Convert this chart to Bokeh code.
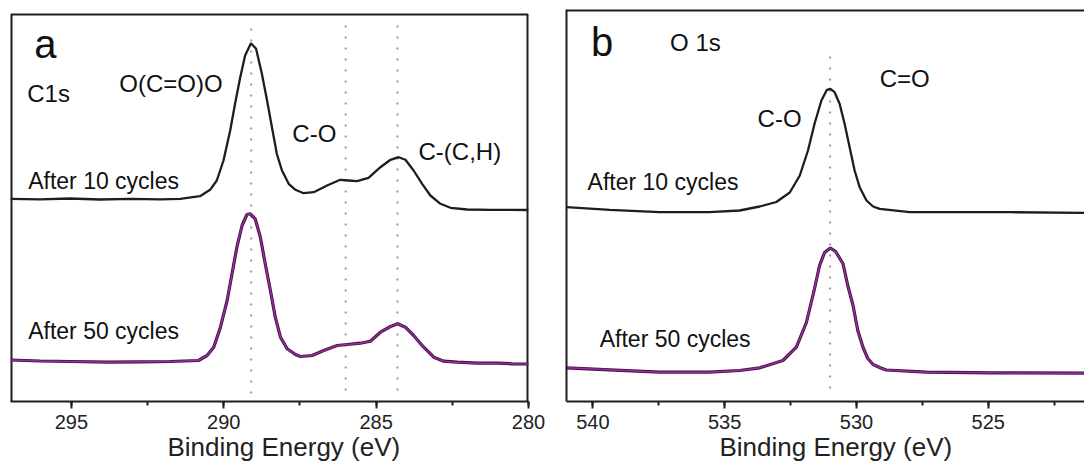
from bokeh.plotting import figure
from bokeh.models import Range1d, SingleIntervalTicker, Label, Title
from bokeh.layouts import row
from bokeh.embed import file_html
from bokeh.resources import INLINE

# ---------------- data: panel a, C 1s ----------------
c1s_be_10 = [297.0, 296.03, 295.05, 294.06, 293.07, 292.09, 291.43, 290.78, 290.45, 290.23,
             290.01, 289.79, 289.63, 289.46, 289.30, 289.11, 288.94, 288.75, 288.58, 288.42,
             288.26, 288.09, 287.87, 287.65, 287.38, 287.05, 286.61, 286.18, 285.90, 285.63,
             285.25, 284.86, 284.53, 284.26, 284.04, 283.77, 283.49, 283.22, 282.89, 282.56,
             282.01, 281.25, 280.59, 280.0]
c1s_int_10 = [202.7, 202.2, 203.0, 202.0, 202.7, 202.2, 202.7, 205.3, 211.7, 221.0,
              241.0, 271.0, 297.7, 324.3, 346.0, 358.3, 352.7, 327.7, 301.0, 274.3,
              247.7, 231.0, 217.7, 211.7, 208.3, 209.3, 216.0, 221.7, 221.0, 220.3,
              223.7, 234.3, 241.7, 244.3, 241.7, 231.0, 217.7, 206.0, 197.7, 193.7,
              192.0, 191.7, 191.7, 191.5]

c1s_be_50 = [297.0, 296.03, 295.05, 293.79, 292.74, 291.76, 290.83, 290.55, 290.33, 290.11,
             289.89, 289.73, 289.57, 289.40, 289.24, 289.13, 288.97, 288.80, 288.64, 288.47,
             288.31, 288.14, 287.92, 287.65, 287.49, 287.10, 286.72, 286.28, 285.95, 285.52,
             285.19, 284.86, 284.53, 284.29, 284.04, 283.77, 283.44, 283.11, 282.78, 282.34,
             281.68, 281.03, 280.53, 280.0]
c1s_int_50 = [41.5, 40.5, 40.0, 39.3, 39.7, 40.0, 41.0, 46.0, 54.3, 74.3,
              101.0, 127.7, 154.3, 176.0, 187.0, 187.7, 182.7, 164.3, 137.7, 111.0,
              84.3, 64.3, 52.7, 47.0, 45.0, 46.0, 51.0, 56.0, 57.0, 58.3,
              60.3, 69.3, 75.0, 77.7, 74.3, 66.0, 54.3, 44.3, 40.3, 39.3,
              38.3, 38.3, 37.7, 37.5]

c1s_peaks = [289.1, 286.0, 284.3]

# ---------------- data: panel b, O 1s ----------------
o1s_be_10 = [541.0, 539.36, 537.47, 535.57, 534.43, 533.67, 533.04, 532.53, 532.15, 531.84,
             531.59, 531.33, 531.12, 530.99, 530.83, 530.64, 530.45, 530.26, 530.07, 529.88,
             529.62, 529.37, 529.12, 527.98, 526.08, 524.19, 521.35]
o1s_int_10 = [193.3, 190.7, 188.3, 188.3, 190.0, 194.0, 198.5, 208.0, 225.0, 250.0,
              276.7, 300.0, 310.7, 311.7, 308.3, 296.7, 276.7, 253.3, 230.0, 213.3,
              200.0, 194.0, 191.7, 188.3, 188.3, 188.3, 187.7]

o1s_be_50 = [541.0, 539.36, 537.47, 535.57, 534.43, 533.67, 532.79, 532.28, 531.90, 531.59,
             531.40, 531.21, 530.99, 530.79, 530.51, 530.33, 530.13, 529.95, 529.75, 529.57,
             529.37, 529.12, 528.87, 527.35, 524.82, 521.35]
o1s_int_50 = [32.7, 30.7, 28.3, 28.3, 30.0, 32.7, 40.0, 53.3, 78.0, 112.0,
              135.0, 148.0, 152.5, 149.0, 136.7, 115.0, 95.0, 70.0, 53.0, 42.0,
              36.0, 33.0, 30.5, 28.3, 27.7, 27.3]

o1s_peaks = [531.0]

FONT = "Liberation Sans"
BLACK = "#1e1e1e"
PURPLE_EDGE = "#3a1440"
PURPLE = "#9a2a9e"
DOT = "#9a9a9a"
XTITLE = "Binding Energy (eV)"


def style_bottom_axis(ax):
    ax.ticker = SingleIntervalTicker(interval=5, num_minor_ticks=2)
    ax.axis_line_width = 2
    ax.axis_line_color = BLACK
    ax.major_tick_line_width = 2
    ax.major_tick_line_color = BLACK
    ax.minor_tick_line_width = 2
    ax.minor_tick_line_color = BLACK
    ax.major_tick_in = 0
    ax.major_tick_out = 7
    ax.minor_tick_in = 0
    ax.minor_tick_out = 4
    ax.major_label_text_font = FONT
    ax.major_label_text_font_size = "20px"
    ax.major_label_text_color = "#222222"
    ax.major_label_standoff = 6


def add_xtitle(p, shift):
    p.add_layout(Title(text=XTITLE, align="left", offset=shift, standoff=-4,
                       text_font=FONT, text_font_size="26px", text_font_style="normal",
                       text_color="#222222"), "below")


def add_label(p, x, y, text, size):
    p.add_layout(Label(x=x, y=y, text=text, text_font=FONT, text_font_size=size,
                       text_color="#111111", text_baseline="alphabetic", text_align="left"))


# ---------------- panel a ----------------
pa = figure(width=548, height=463, output_backend="svg", toolbar_location=None,
            x_range=Range1d(297, 280), y_range=Range1d(0, 392),
            y_axis_location=None, min_border_left=10, min_border_right=20,
            min_border_top=9, min_border_bottom=62)
pa.grid.visible = False
pa.outline_line_color = None
pa.background_fill_color = "white"
style_bottom_axis(pa.xaxis[0])
add_xtitle(pa, 157)

# frame of panel a: top edge sits a little below panel b's top edge
pa.segment(x0=[297, 297, 280], x1=[280, 297, 280], y0=[387, 0, 0], y1=[387, 387, 387],
           line_color=BLACK, line_width=[2, 4, 4])

pa.segment(x0=c1s_peaks, x1=c1s_peaks, y0=[8, 11, 11], y1=[373, 376, 376],
           line_color=DOT, line_width=2, line_dash="2 9")
pa.line(c1s_be_10, c1s_int_10, line_color=BLACK, line_width=2.3)
pa.line(c1s_be_50, c1s_int_50, line_color=PURPLE_EDGE, line_width=3.2)
pa.line(c1s_be_50, c1s_int_50, line_color=PURPLE, line_width=1.5)

add_label(pa, 296.22, 358, "a", "40px")
add_label(pa, 296.45, 308, "C1s", "24px")
add_label(pa, 293.43, 318, "O(C=O)O", "24px")
add_label(pa, 287.75, 268, "C-O", "24px")
add_label(pa, 283.61, 250, "C-(C,H)", "24px")
add_label(pa, 296.42, 220.5, "After 10 cycles", "23px")
add_label(pa, 296.42, 71, "After 50 cycles", "23px")

# ---------------- panel b ----------------
pb = figure(width=536, height=463, output_backend="svg", toolbar_location=None,
            x_range=Range1d(541, 521.35), y_range=Range1d(-1, 391),
            min_border_left=18, min_border_right=0,
            min_border_top=9, min_border_bottom=62)
pb.grid.visible = False
pb.outline_line_color = None
pb.background_fill_color = "white"
style_bottom_axis(pb.xaxis[0])
add_xtitle(pb, 153)

ya = pb.yaxis[0]
ya.ticker = []
ya.axis_line_width = 2
ya.axis_line_color = BLACK
ya.major_tick_out = 0
ya.minor_tick_out = 0
ya.major_label_standoff = 0
ya.major_label_text_font_size = "0px"

# top edge of the frame (panel b is cut off on the right)
pb.segment(x0=[541], x1=[521.35], y0=[391], y1=[391], line_color=BLACK, line_width=4)

pb.segment(x0=o1s_peaks, x1=o1s_peaks, y0=[12], y1=[348],
           line_color=DOT, line_width=2, line_dash="2 9")
pb.line(o1s_be_10, o1s_int_10, line_color=BLACK, line_width=2.3)
pb.line(o1s_be_50, o1s_int_50, line_color=PURPLE_EDGE, line_width=3.2)
pb.line(o1s_be_50, o1s_int_50, line_color=PURPLE, line_width=1.5)

add_label(pb, 540.07, 359, "b", "40px")
add_label(pb, 537.07, 358.5, "O 1s", "24px")
add_label(pb, 529.12, 322, "C=O", "24px")
add_label(pb, 533.75, 282, "C-O", "24px")
add_label(pb, 540.2, 218.5, "After 10 cycles", "23px")
add_label(pb, 539.74, 62, "After 50 cycles", "23px")

layout = row(pa, pb)
open("out.html", "w").write(file_html(layout, INLINE))
